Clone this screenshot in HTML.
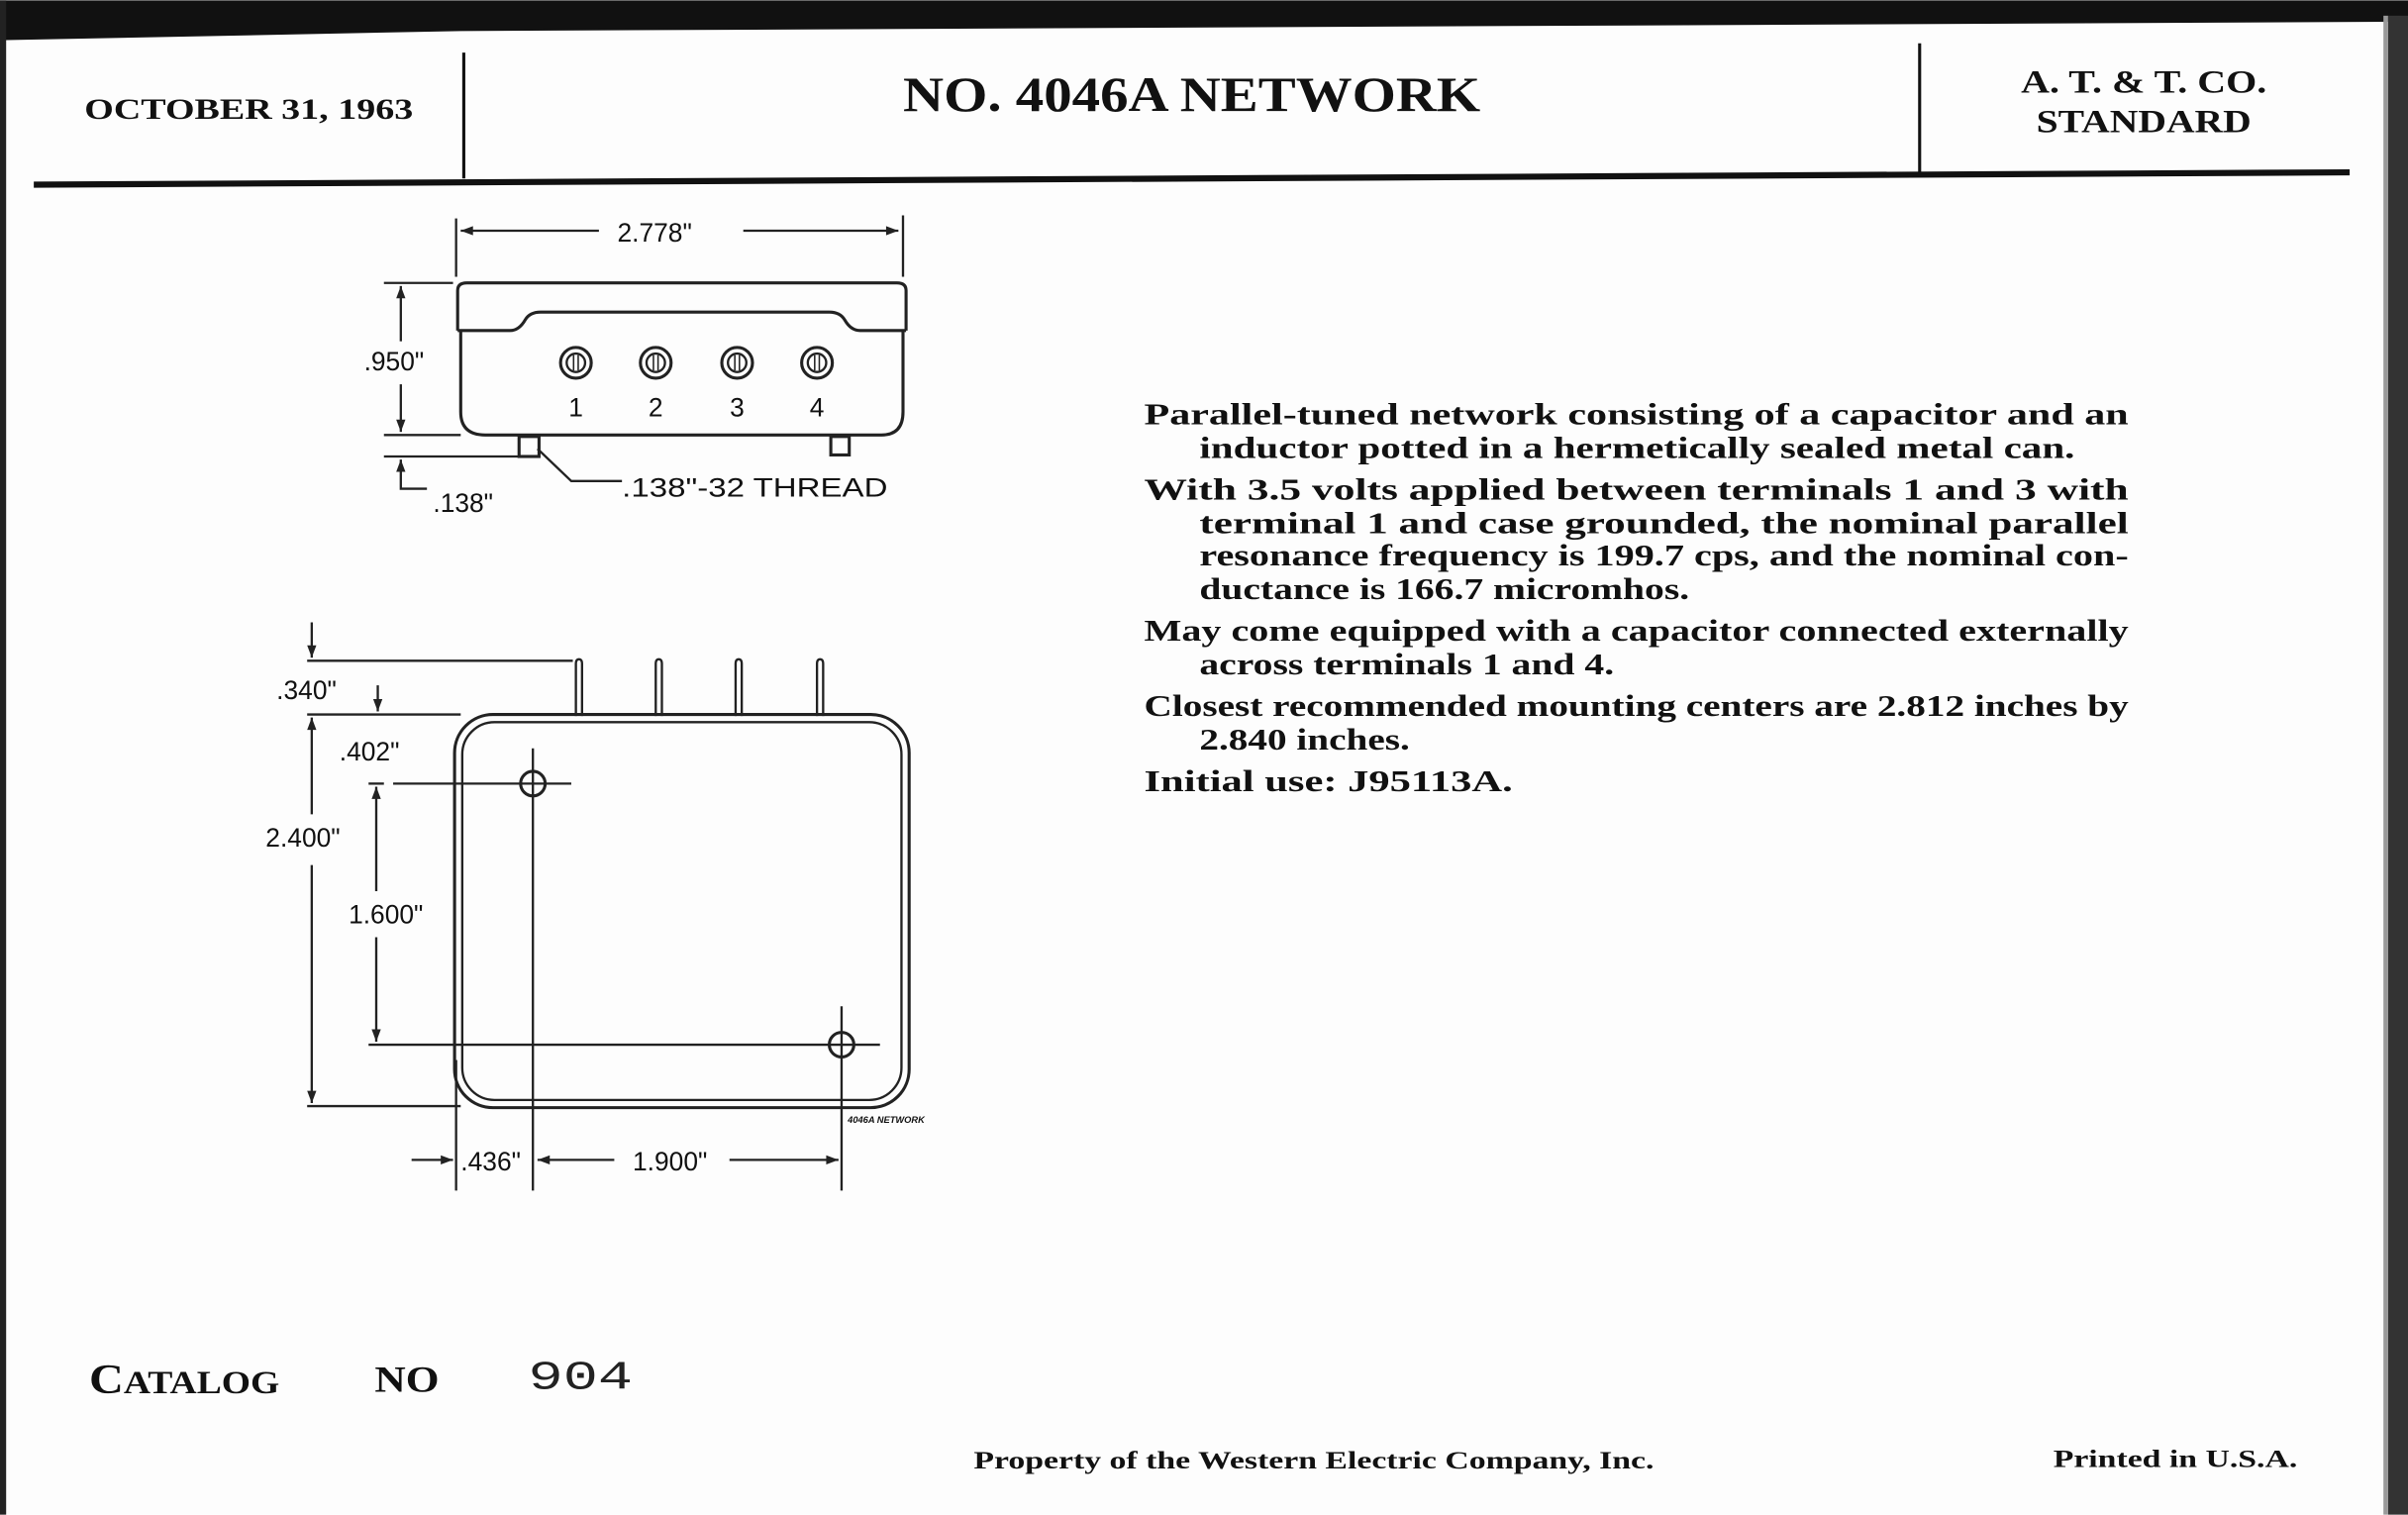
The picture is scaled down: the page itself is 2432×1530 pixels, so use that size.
<!DOCTYPE html>
<html><head><meta charset="utf-8"><style>
html,body{margin:0;padding:0;background:#fff;}
svg{display:block;}
.s{font-family:"Liberation Serif",serif;font-weight:bold;fill:#111;}
.d{font-family:"Liberation Sans",sans-serif;fill:#111;}
</style></head><body>
<svg width="2432" height="1530" viewBox="0 0 1568 986" xmlns="http://www.w3.org/2000/svg">
<rect width="1568" height="986" fill="#fdfdfd"/>
<polygon points="0,0 1568,0 1568,14 1555,14 300,20 0,26" fill="#111"/>
<rect x="0" y="0" width="4" height="986" fill="#222"/>
<rect x="1555" y="10" width="13" height="976" fill="#333"/>
<rect x="1552" y="10" width="3" height="976" fill="#999"/>
<!-- header -->
<line x1="302" y1="34" x2="302" y2="116" stroke="#111" stroke-width="2"/>
<line x1="1250" y1="28" x2="1250" y2="112" stroke="#111" stroke-width="2"/>
<polygon points="22,118 1530,110 1530,114 22,122" fill="#111"/>
<text class="s" x="162" y="77" font-size="19" text-anchor="middle" textLength="214" lengthAdjust="spacingAndGlyphs">OCTOBER 31, 1963</text>
<text class="s" x="776" y="72" font-size="32" text-anchor="middle" textLength="376" lengthAdjust="spacingAndGlyphs">NO. 4046A NETWORK</text>
<text class="s" x="1396" y="60" font-size="21" text-anchor="middle" textLength="160" lengthAdjust="spacingAndGlyphs">A. T. &amp; T. CO.</text>
<text class="s" x="1396" y="86" font-size="21" text-anchor="middle" textLength="140" lengthAdjust="spacingAndGlyphs">STANDARD</text>
<!-- top view -->
<g stroke="#222" fill="none" stroke-width="2">
<line x1="297" y1="142" x2="297" y2="180" stroke-width="1.5"/>
<line x1="588" y1="140" x2="588" y2="180" stroke-width="1.5"/>
<line x1="300" y1="150" x2="390" y2="150" stroke-width="1.5"/>
<line x1="484" y1="150" x2="585" y2="150" stroke-width="1.5"/>
<path d="M298,215 L298,189 Q298,184 304,184 L584,184 Q590,184 590,189 L590,215"/>
<path d="M298,215 L332,215 Q338,215 342,208 Q345,203 352,203 L540,203 Q547,203 550,208 Q554,215 560,215 L590,215"/>
<path d="M300,215 L300,268 Q300,283 316,283 L574,283 Q588,283 588,268 L588,215"/>
<rect x="338" y="284" width="13" height="13" stroke-width="2"/>
<rect x="541" y="284" width="12" height="12" stroke-width="2"/>
<line x1="250" y1="184" x2="295" y2="184" stroke-width="1.5"/>
<line x1="250" y1="283" x2="300" y2="283" stroke-width="1.5"/>
<line x1="250" y1="297" x2="338" y2="297" stroke-width="1.5"/>
<line x1="261" y1="186" x2="261" y2="222" stroke-width="1.5"/>
<line x1="261" y1="250" x2="261" y2="281" stroke-width="1.5"/>
<path d="M261,299 L261,318 L278,318" stroke-width="1.5"/>
<path d="M350,292 L372,313 L405,313" stroke-width="1.5"/>
</g>
<g stroke="#222" fill="none">
<g transform="translate(375,236)"><circle r="10" stroke-width="2"/><circle r="6" stroke-width="1.5"/><line x1="-1.5" y1="-5" x2="-1.5" y2="5"/><line x1="1.5" y1="-5" x2="1.5" y2="5"/></g>
<g transform="translate(427,236)"><circle r="10" stroke-width="2"/><circle r="6" stroke-width="1.5"/><line x1="-1.5" y1="-5" x2="-1.5" y2="5"/><line x1="1.5" y1="-5" x2="1.5" y2="5"/></g>
<g transform="translate(480,236)"><circle r="10" stroke-width="2"/><circle r="6" stroke-width="1.5"/><line x1="-1.5" y1="-5" x2="-1.5" y2="5"/><line x1="1.5" y1="-5" x2="1.5" y2="5"/></g>
<g transform="translate(532,236)"><circle r="10" stroke-width="2"/><circle r="6" stroke-width="1.5"/><line x1="-1.5" y1="-5" x2="-1.5" y2="5"/><line x1="1.5" y1="-5" x2="1.5" y2="5"/></g>
</g>
<g fill="#222">
<polygon points="300,150 308,147 308,153"/><polygon points="585,150 577,147 577,153"/>
<polygon points="261,186 258,194 264,194"/><polygon points="261,281 258,273 264,273"/>
<polygon points="261,299 258,307 264,307"/>
</g>
<g class="d" font-size="17">
<text x="402" y="157">2.778"</text>
<text x="237" y="241">.950"</text>
<text x="282" y="333">.138"</text>
<text x="405" y="323" textLength="173" lengthAdjust="spacingAndGlyphs">.138"-32 THREAD</text>
<text x="375" y="271" text-anchor="middle">1</text><text x="427" y="271" text-anchor="middle">2</text>
<text x="480" y="271" text-anchor="middle">3</text><text x="532" y="271" text-anchor="middle">4</text>
</g>
<!-- bottom view -->
<g stroke="#222" fill="none">
<rect x="296" y="465" width="296" height="256" rx="25" stroke-width="2"/>
<rect x="301" y="470" width="286" height="246" rx="21" stroke-width="1.5"/>
<path d="M375,466 L375,432 Q375,429 377,429 Q379,429 379,432 L379,466" stroke-width="1.5"/>
<path d="M427,466 L427,432 Q427,429 429,429 Q431,429 431,432 L431,466" stroke-width="1.5"/>
<path d="M479,466 L479,432 Q479,429 481,429 Q483,429 483,432 L483,466" stroke-width="1.5"/>
<path d="M532,466 L532,432 Q532,429 534,429 Q536,429 536,432 L536,466" stroke-width="1.5"/>
<g stroke-width="1.5">
<line x1="200" y1="430" x2="373" y2="430"/>
<line x1="200" y1="465" x2="300" y2="465"/>
<line x1="203" y1="405" x2="203" y2="428"/>
<line x1="246" y1="446" x2="246" y2="463"/>
<line x1="203" y1="467" x2="203" y2="530"/>
<line x1="203" y1="563" x2="203" y2="718"/>
<line x1="200" y1="720" x2="300" y2="720"/>
<line x1="240" y1="510" x2="250" y2="510"/>
<line x1="256" y1="510" x2="372" y2="510"/>
<line x1="245" y1="512" x2="245" y2="580"/>
<line x1="245" y1="610" x2="245" y2="678"/>
<line x1="240" y1="680" x2="573" y2="680"/>
<line x1="347" y1="487" x2="347" y2="775"/>
<line x1="548" y1="655" x2="548" y2="775"/>
<line x1="297" y1="690" x2="297" y2="775"/>
<line x1="268" y1="755" x2="295" y2="755"/>
<line x1="350" y1="755" x2="400" y2="755"/>
<line x1="475" y1="755" x2="546" y2="755"/>
</g>
<circle cx="347" cy="510" r="8" stroke-width="2"/>
<circle cx="548" cy="680" r="8" stroke-width="2"/>
</g>
<g fill="#222">
<polygon points="203,428 200,420 206,420"/><polygon points="246,463 243,455 249,455"/>
<polygon points="203,467 200,475 206,475"/><polygon points="203,718 200,710 206,710"/>
<polygon points="245,512 242,520 248,520"/><polygon points="245,678 242,670 248,670"/>
<polygon points="295,755 287,752 287,758"/><polygon points="350,755 358,752 358,758"/>
<polygon points="546,755 538,752 538,758"/>
</g>
<g class="d" font-size="17">
<text x="180" y="455">.340"</text>
<text x="221" y="495">.402"</text>
<text x="173" y="551">2.400"</text>
<text x="227" y="601">1.600"</text>
<text x="300" y="762">.436"</text>
<text x="412" y="762">1.900"</text>
</g>
<text class="d" x="552" y="731" font-size="6" font-weight="bold" font-style="italic">4046A NETWORK</text>
<!-- description -->
<g class="s" font-size="20">
<text x="745" y="276" textLength="641" lengthAdjust="spacingAndGlyphs">Parallel-tuned network consisting of a capacitor and an</text>
<text x="781" y="298" textLength="570" lengthAdjust="spacingAndGlyphs">inductor potted in a hermetically sealed metal can.</text>
<text x="745" y="325" textLength="641" lengthAdjust="spacingAndGlyphs">With 3.5 volts applied between terminals 1 and 3 with</text>
<text x="781" y="347" textLength="605" lengthAdjust="spacingAndGlyphs">terminal 1 and case grounded, the nominal parallel</text>
<text x="781" y="368" textLength="605" lengthAdjust="spacingAndGlyphs">resonance frequency is 199.7 cps, and the nominal con-</text>
<text x="781" y="390" textLength="319" lengthAdjust="spacingAndGlyphs">ductance is 166.7 micromhos.</text>
<text x="745" y="417" textLength="641" lengthAdjust="spacingAndGlyphs">May come equipped with a capacitor connected externally</text>
<text x="781" y="439" textLength="270" lengthAdjust="spacingAndGlyphs">across terminals 1 and 4.</text>
<text x="745" y="466" textLength="641" lengthAdjust="spacingAndGlyphs">Closest recommended mounting centers are 2.812 inches by</text>
<text x="781" y="488" textLength="137" lengthAdjust="spacingAndGlyphs">2.840 inches.</text>
<text x="745" y="515" textLength="240" lengthAdjust="spacingAndGlyphs">Initial use:  J95113A.</text>
</g>
<!-- footer -->
<text class="s" x="58" y="907" font-size="27" textLength="124" lengthAdjust="spacingAndGlyphs">C<tspan font-size="21">ATALOG</tspan></text>
<text class="s" x="244" y="906" font-size="24" textLength="42" lengthAdjust="spacingAndGlyphs">NO</text>
<text x="344" y="904" font-family="Liberation Mono,monospace" font-size="26" fill="#222" textLength="68" lengthAdjust="spacingAndGlyphs">904</text>
<text class="s" x="634" y="956" font-size="16" textLength="443" lengthAdjust="spacingAndGlyphs">Property of the Western Electric Company, Inc.</text>
<text class="s" x="1337" y="955" font-size="16" textLength="159" lengthAdjust="spacingAndGlyphs">Printed in U.S.A.</text>
</svg>
</body></html>
